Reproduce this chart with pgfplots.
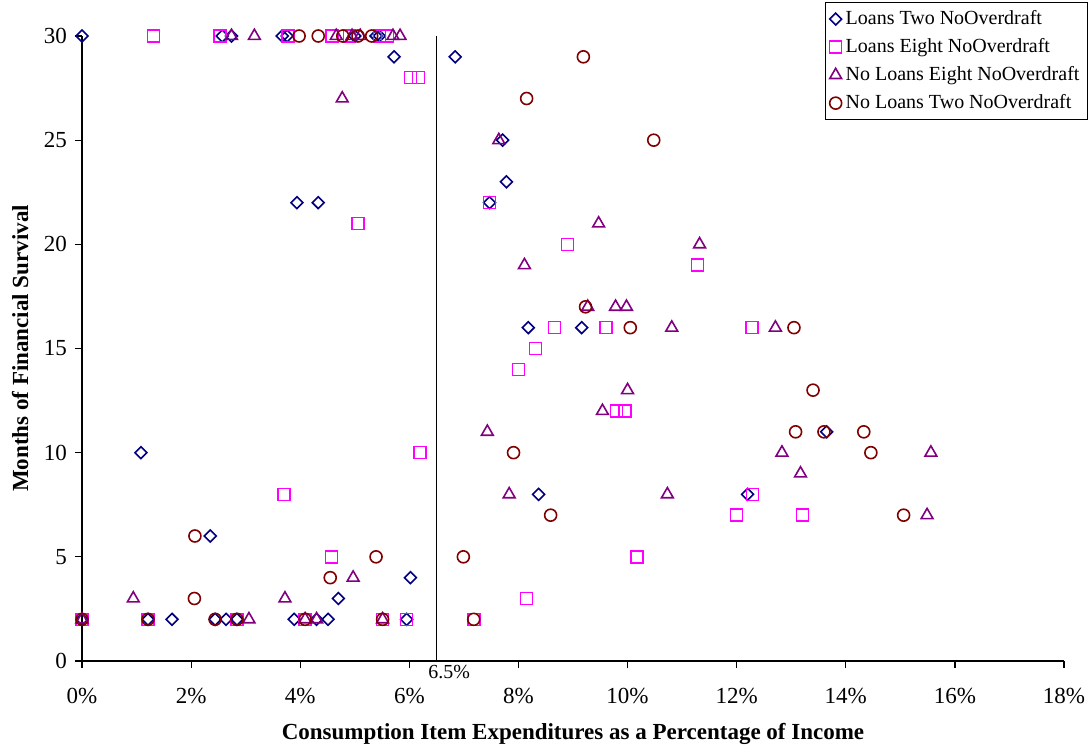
\documentclass[border=0pt]{standalone}
\usepackage{fontspec}
\setmainfont{Liberation Serif}
\usepackage{pgfplots}
\pgfplotsset{compat=1.18}

\definecolor{lnavy}{RGB}{0,0,128}
\definecolor{lmag}{RGB}{255,0,255}
\definecolor{lpurp}{RGB}{128,0,128}
\definecolor{ldred}{RGB}{128,0,0}

\begin{document}
\begin{tikzpicture}
\path[use as bounding box] (-41bp,-43.5bp) rectangle (505bp,330.5bp);
\begin{axis}[
    at={(0,0)}, anchor=south west,
    scale only axis,
    width=491bp, height=312.5bp,
    xmin=0, xmax=18, ymin=0, ymax=30,
    axis x line=bottom, axis y line=left,
    axis line style={-, black, line width=0.6bp},
    tick style={black, line width=0.6bp},
    tick align=outside,
    major tick length=3.5bp,
    xtick={0,2,...,18},
    xticklabels={0\%,2\%,4\%,6\%,8\%,10\%,12\%,14\%,16\%,18\%},
    ytick={0,5,...,30},
    /pgf/number format/assume math mode=true,
    tick label style={font=\fontsize{11.5bp}{13bp}\selectfont},
    xticklabel style={yshift=-6.5bp},
    yticklabel style={xshift=-0.5bp},
    xlabel={\textbf{Consumption Item Expenditures as a Percentage of Income}},
    ylabel={\textbf{Months of Financial Survival}},
    every axis x label/.style={at={(axis description cs:0.5,-0.117)}, anchor=center,
        font=\fontsize{11.5bp}{13bp}\selectfont},
    every axis y label/.style={at={(axis description cs:-0.063,0.5)}, rotate=90, anchor=center,
        font=\fontsize{11.5bp}{13bp}\selectfont},
    clip=false,
    legend cell align=left,
    legend style={at={(rel axis cs:1.0244,1.0544)}, anchor=north east,
        draw=black, line width=0.5bp, row sep=1.5bp, inner sep=2bp,
        fill=white, font=\fontsize{10bp}{12bp}\selectfont},
    legend image post style={line width=0.8bp},
]
\addplot[only marks, mark=square, mark size=2.1bp,
    mark options={rotate=45, draw=lnavy, line width=0.8bp, fill=none}, color=lnavy]
coordinates {
(0,30)(2.57,30)(2.74,30)(3.67,30)(3.76,30)(5.0,30)(5.39,30)(5.45,30)
(5.72,29)(6.84,29)(7.71,25)(7.78,23)(3.94,22)(4.33,22)(7.47,22)
(8.18,16)(9.16,16)(13.65,11)(1.08,10)(8.37,8)(12.2,8)(2.35,6)(6.02,4)(4.70,3)
(0,2)(1.21,2)(1.65,2)(2.44,2)(2.64,2)(2.84,2)(3.89,2)(4.3,2)(4.51,2)(5.95,2)
};
\addlegendentry{Loans Two NoOverdraft}

\addplot[only marks, mark=square, mark size=3bp,
    mark options={draw=lmag, line width=0.8bp, fill=none}, color=lmag]
coordinates {
(1.31,30)(2.53,30)(3.78,30)(4.58,30)(4.9,30)(5.45,30)(5.6,30)
(6.02,28)(6.17,28)(5.06,21)(7.47,22)(8.9,20)(11.28,19)
(8.66,16)(9.61,16)(12.28,16)(8.31,15)(8.0,14)(9.8,12)(9.95,12)
(6.2,10)(3.7,8)(12.29,8)(12.0,7)(13.21,7)(4.57,5)(10.17,5)(8.15,3)
(0,2)(1.21,2)(2.84,2)(4.09,2)(5.51,2)(5.95,2)(7.18,2)
};
\addlegendentry{Loans Eight NoOverdraft}

\addplot[only marks, mark=triangle, mark size=3.4bp,
    mark options={draw=lpurp, line width=0.8bp, fill=none}, color=lpurp]
coordinates {
(2.74,30)(3.16,30)(4.66,30)(4.95,30)(5.1,30)(5.7,30)(5.83,30)
(4.77,27)(7.64,25)(9.47,21)(11.32,20)(8.11,19)
(9.27,17)(9.78,17)(9.98,17)(10.81,16)(12.71,16)(10.0,13)(9.54,12)
(7.43,11)(12.83,10)(15.56,10)(13.17,9)(7.83,8)(10.73,8)(15.49,7)
(4.97,4)(0.94,3)(3.72,3)
(0,2)(3.06,2)(4.09,2)(4.3,2)(5.51,2)
};
\addlegendentry{No Loans Eight NoOverdraft}

\addplot[only marks, mark=o, mark size=3bp,
    mark options={draw=ldred, line width=0.8bp, fill=none}, color=ldred]
coordinates {
(3.98,30)(4.33,30)(4.78,30)(5.06,30)(5.31,30)
(9.19,29)(8.15,27)(10.48,25)(9.23,17)(10.05,16)(13.05,16)(13.4,13)
(13.08,11)(13.6,11)(14.33,11)(7.91,10)(14.46,10)(8.59,7)(15.06,7)
(2.07,6)(5.39,5)(6.99,5)(4.55,4)(2.06,3)
(0,2)(1.21,2)(2.44,2)(2.84,2)(4.09,2)(5.51,2)(7.18,2)
};
\addlegendentry{No Loans Two NoOverdraft}

\addplot[black, line width=0.75bp, forget plot] coordinates {(6.5,0)(6.5,30)};
\node at (axis cs:6.73,-0.55) {6.5\%};
\end{axis}
\end{tikzpicture}
\end{document}
